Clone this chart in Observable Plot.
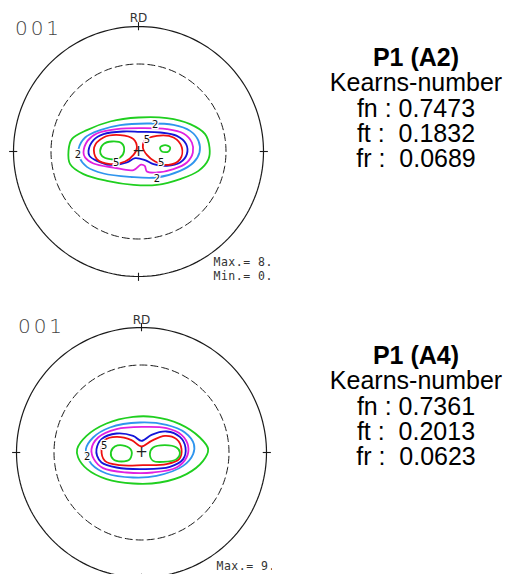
<!DOCTYPE html>
<html><head><meta charset="utf-8">
<script src="https://cdn.jsdelivr.net/npm/d3@7"></script>
<script src="https://cdn.jsdelivr.net/npm/@observablehq/plot@0.6"></script>
<style>
html,body{margin:0;padding:0;background:#fff;overflow:hidden;}
#root{position:relative;width:510px;height:574px;overflow:hidden;background:#fff;}
.pf{position:absolute;overflow:hidden;}
.pf svg{overflow:hidden;display:block;}
.info{position:absolute;width:200px;font-family:"Liberation Sans",Arial,sans-serif;font-size:25px;color:#000;}
.info div{position:absolute;left:0;width:200px;text-align:center;white-space:pre;line-height:25px;}
.info div.t{font-weight:bold;}
</style></head><body><div id="root"></div>
<script>
// ---------- Data ----------
const panelNames = ["P1 (A2)", "P1 (A4)"];
const subtitle = "Kearns-number";
const fnValues = ["0.7473", "0.7361"];
const ftValues = ["0.1832", "0.2013"];
const frValues = ["0.0689", "0.0623"];
const maxValues = ["8.7", "9.5"];
const minValues = ["0.0", null];
const poleLabel = "001";
const dirLabel = "RD";

// contour colours by level
const levelColors = {L1: "#1fcf1f", L2: "#2f95ee", L3: "#e020e0", L4: "#1414d8", L5: "#ee1010", L6: "#1fcf1f"};

// A2 contours (projection units, outer circle radius = 1)
const a2_L1 = [[-0.56,0.005],[-0.533,0.099],[-0.413,0.171],[-0.227,0.24],[0,0.272],[0.227,0.267],[0.413,0.219],[0.533,0.139],[0.568,0.032],[0.56,-0.061],[0.48,-0.155],[0.333,-0.221],[0.147,-0.267],[-0.04,-0.267],[-0.253,-0.235],[-0.44,-0.181],[-0.547,-0.101]];
const a2_L2 = [[-0.48,0.019],[-0.427,0.112],[-0.307,0.171],[-0.147,0.211],[0.067,0.224],[0.28,0.213],[0.413,0.165],[0.48,0.085],[0.488,-0.008],[0.44,-0.088],[0.333,-0.155],[0.147,-0.208],[-0.067,-0.203],[-0.28,-0.176],[-0.413,-0.123],[-0.472,-0.048]];
const a2_L3 = [[-0.44,-0.008],[-0.408,0.085],[-0.333,0.144],[-0.173,0.179],[0.013,0.187],[0.227,0.179],[0.36,0.144],[0.427,0.072],[0.435,-0.008],[0.387,-0.088],[0.28,-0.141],[0.147,-0.168],[0.067,-0.16],[0.05,-0.115],[0.02,-0.105],[-0.04,-0.149],[-0.2,-0.128],[-0.36,-0.096],[-0.427,-0.048]];
const a2_L4 = [[-0.4,0.005],[-0.36,0.091],[-0.28,0.139],[-0.12,0.16],[0.013,0.157],[0.173,0.152],[0.307,0.125],[0.381,0.059],[0.387,-0.021],[0.333,-0.088],[0.227,-0.115],[0.12,-0.101],[0.053,-0.069],[-0.027,-0.053],[-0.093,-0.088],[-0.227,-0.107],[-0.333,-0.075],[-0.392,-0.035]];
const a2_L5a = [[-0.013,0.027],[-0.04,0.099],[-0.147,0.131],[-0.28,0.112],[-0.355,0.032],[-0.333,-0.061],[-0.227,-0.101],[-0.107,-0.08],[-0.04,-0.027]];
const a2_L5b = [[0.035,0.032],[0.053,0.091],[0.147,0.125],[0.28,0.112],[0.347,0.032],[0.333,-0.061],[0.24,-0.107],[0.133,-0.08],[0.067,-0.027]];
const a2_L6a = [[-0.307,0.005],[-0.28,0.059],[-0.213,0.08],[-0.133,0.064],[-0.115,0.005],[-0.147,-0.048],[-0.227,-0.061],[-0.293,-0.035]];
const a2_L6b = [[0.173,0.032],[0.213,0.051],[0.253,0.032],[0.24,0.0],[0.187,0.0]];
const a2_labels = [[0.133,0.213,"2"],[0.147,-0.216,"2"],[-0.485,-0.027,"2"],[0.067,0.091,"5"],[-0.179,-0.093,"5"],[0.181,-0.093,"5"]];

// A4 contours
const a4_L1 = [[-0.515,0.027],[-0.44,0.133],[-0.28,0.232],[-0.067,0.285],[0.093,0.285],[0.307,0.227],[0.467,0.12],[0.533,0.027],[0.493,-0.067],[0.36,-0.173],[0.147,-0.24],[-0.067,-0.248],[-0.28,-0.213],[-0.435,-0.133],[-0.507,-0.04]];
const a4_L2 = [[-0.445,0.027],[-0.387,0.12],[-0.253,0.2],[-0.013,0.24],[0.2,0.221],[0.347,0.16],[0.419,0.067],[0.413,-0.013],[0.333,-0.107],[0.12,-0.187],[-0.067,-0.2],[-0.28,-0.168],[-0.4,-0.093],[-0.435,-0.027]];
const a4_L3 = [[-0.4,0.027],[-0.347,0.12],[-0.2,0.187],[0.013,0.205],[0.2,0.195],[0.32,0.141],[0.373,0.053],[0.36,-0.04],[0.28,-0.12],[0.093,-0.16],[-0.12,-0.16],[-0.307,-0.125],[-0.381,-0.053]];
const a4_L4 = [[-0.36,0.027],[-0.32,0.107],[-0.2,0.152],[-0.067,0.133],[0,0.093],[0.08,0.141],[0.2,0.168],[0.307,0.125],[0.352,0.04],[0.333,-0.053],[0.227,-0.115],[0.013,-0.133],[-0.2,-0.12],[-0.32,-0.08],[-0.355,-0.027]];
const a4_L5 = [[-0.32,0.027],[-0.293,0.099],[-0.2,0.125],[-0.08,0.099],[0,0.048],[0.08,0.093],[0.187,0.133],[0.28,0.107],[0.32,0.027],[0.301,-0.053],[0.2,-0.093],[0.013,-0.101],[-0.173,-0.101],[-0.293,-0.067]];
const a4_L6a = [[-0.245,0.0],[-0.213,0.048],[-0.133,0.053],[-0.08,0.013],[-0.093,-0.053],[-0.16,-0.072],[-0.227,-0.053]];
const a4_L6b = [[0.067,-0.013],[0.093,0.04],[0.187,0.059],[0.28,0.04],[0.307,0.0],[0.28,-0.053],[0.173,-0.075],[0.093,-0.067]];
const a4_labels = [[-0.435,-0.035,"2"],[-0.299,0.053,"5"]];

const dashedRadius = 0.70;

// ---------- Drawing ----------
function ring(r) { return d3.range(0, 361, 2).map(a => ({x: r*Math.cos(a*Math.PI/180), y: r*Math.sin(a*Math.PI/180)})); }
const tickAngles = [0, 90, 180, 270];

function poleFigure(cfg) {
  const pts = [];
  cfg.contours.forEach((c, i) => c.pts.forEach(p => pts.push({id: i, x: p[0], y: p[1], color: levelColors[c.level]})));
  const ticks = tickAngles.map(a => ({x1: 0.97*Math.cos(a*Math.PI/180), y1: 0.97*Math.sin(a*Math.PI/180), x2: 1.035*Math.cos(a*Math.PI/180), y2: 1.035*Math.sin(a*Math.PI/180)}));
  const labels = cfg.labels.map(l => ({x: l[0], y: l[1], t: l[2]}));
  const info = [{x: 0.6, y: cfg.maxY, t: "Max.= " + cfg.max}];
  if (cfg.min != null) info.push({x: 0.6, y: cfg.maxY - 0.112, t: "Min.= " + cfg.min});
  const svg = Plot.plot({
    width: cfg.width, height: cfg.height,
    marginLeft: cfg.ml, marginRight: cfg.mr, marginTop: cfg.mt, marginBottom: cfg.mb,
    x: {domain: [-1, 1], axis: null},
    y: {domain: [-1, 1], axis: null},
    color: {type: "identity"},
    style: {background: "white", overflow: "hidden"},
    marks: [
      Plot.line(ring(1), {x: "x", y: "y", stroke: "#1a1a1a", strokeWidth: 1.2}),
      Plot.line(ring(dashedRadius), {x: "x", y: "y", stroke: "#1a1a1a", strokeWidth: 1, strokeDasharray: "7,4"}),
      Plot.link(ticks, {x1: "x1", y1: "y1", x2: "x2", y2: "y2", stroke: "#1a1a1a", strokeWidth: 1.1}),
      Plot.line(pts, {x: "x", y: "y", z: "id", stroke: "color", strokeWidth: 1.8, curve: "catmull-rom-closed"}),
      Plot.text(labels, {x: "x", y: "y", text: "t", fontSize: 10, fill: "#111", stroke: "white", strokeWidth: 2.5, fontFamily: "DejaVu Sans"}),
      Plot.text([{x: 0, y: 0}], {x: "x", y: "y", text: () => "+", fontSize: 15, fill: "#222", fontFamily: "DejaVu Sans"}),
      Plot.text([{x: 0, y: cfg.rdY}], {x: "x", y: "y", text: () => dirLabel, fontSize: 12, fill: "#333", fontFamily: "DejaVu Sans"}),
      Plot.text([{x: -0.8, y: cfg.pY}], {x: "x", y: "y", text: () => poleLabel, fontSize: 20, fill: "#444", fontFamily: "DejaVu Sans", fontWeight: 300}),
      Plot.text(info, {x: "x", y: "y", text: "t", fontSize: 11.5, fill: "#333", textAnchor: "start", fontFamily: "DejaVu Sans Mono"})
    ]
  });
  svg.querySelectorAll("text").forEach(t => {
    if (t.textContent === poleLabel) t.setAttribute("letter-spacing", "3");
    if (t.textContent.startsWith("Max") || t.textContent.startsWith("Min")) t.setAttribute("letter-spacing", "0.5");
  });
  return svg;
}

const root = document.getElementById("root");
const layouts = [
  {top: 0, width: 272, height: 287, ml: 13, mr: 9, mt: 26, mb: 11, maxY: -0.888, rdY: 1.064, pY: 0.984,
   contours: [{level:"L1",pts:a2_L1},{level:"L2",pts:a2_L2},{level:"L3",pts:a2_L3},{level:"L4",pts:a2_L4},{level:"L5",pts:a2_L5a},{level:"L5",pts:a2_L5b},{level:"L6",pts:a2_L6a},{level:"L6",pts:a2_L6b}],
   labels: a2_labels, infoTop: 45},
  {top: 287, width: 272, height: 291, ml: 16, mr: 6, mt: 40, mb: 1, maxY: -0.912, rdY: 1.056, pY: 1.008,
   contours: [{level:"L1",pts:a4_L1},{level:"L2",pts:a4_L2},{level:"L3",pts:a4_L3},{level:"L4",pts:a4_L4},{level:"L5",pts:a4_L5},{level:"L6",pts:a4_L6a},{level:"L6",pts:a4_L6b}],
   labels: a4_labels, infoTop: 343}
];

layouts.forEach((L, i) => {
  const wrap = document.createElement("div");
  wrap.className = "pf";
  wrap.style.left = "0px"; wrap.style.top = L.top + "px";
  wrap.style.width = L.width + "px"; wrap.style.height = L.height + "px";
  wrap.appendChild(poleFigure({...L, max: maxValues[i], min: minValues[i]}));
  root.appendChild(wrap);

  const info = document.createElement("div");
  info.className = "info";
  info.style.left = "316px"; info.style.top = L.infoTop + "px";
  const lines = [[panelNames[i], true], [subtitle, false], ["fn : " + fnValues[i], false], ["ft :  " + ftValues[i], false], ["fr :  " + frValues[i], false]];
  lines.forEach((ln, k) => {
    const d = document.createElement("div");
    if (ln[1]) d.className = "t";
    d.textContent = ln[0];
    d.style.top = (k * 25.3) + "px";
    info.appendChild(d);
  });
  root.appendChild(info);
});
</script></body></html>
